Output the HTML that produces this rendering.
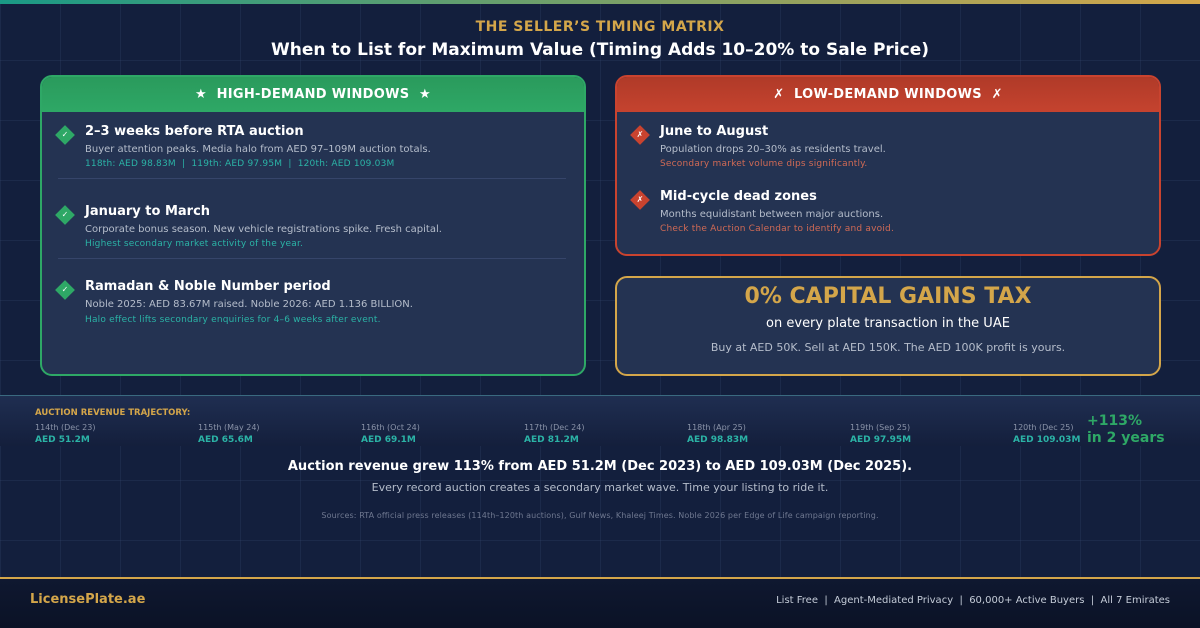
<!DOCTYPE html>
<html><head><meta charset="utf-8"><style>
*{margin:0;padding:0;box-sizing:border-box}
body{width:1200px;height:628px;overflow:hidden;background:#131f3d;font-family:"DejaVu Sans","Liberation Sans",sans-serif;position:relative}
.grid{position:absolute;left:0;top:0;width:1200px;height:580px;background-image:linear-gradient(rgba(60,80,120,.22) 1px,transparent 1px),linear-gradient(90deg,rgba(60,80,120,.22) 1px,transparent 1px);background-size:60px 60px}
.abs{position:absolute;white-space:nowrap}
.c{left:0;width:1200px;text-align:center}
.topbar{position:absolute;left:0;top:0;width:1200px;height:4px;background:linear-gradient(90deg,#1a9a86,#d4a64a)}
.panel{position:absolute;background:#243352;border-radius:12px;overflow:hidden}
.hdr{position:absolute;left:0;top:0;width:100%;height:35px;color:#fff;font-weight:bold;font-size:13px;text-align:center;line-height:36px;letter-spacing:.3px}
.dia{position:absolute;width:14px;height:14px;transform:rotate(45deg)}
.dia span{position:absolute;left:0;top:0;width:14px;height:14px;transform:rotate(-45deg);color:#fff;font-size:8px;text-align:center;line-height:14px}
.t{font-weight:bold;font-size:13px;color:#fff}
.d{font-size:10px;color:#b5bdcb}
.s{font-size:9px;color:#2bb3a6;letter-spacing:.2px}
.sr{font-size:9px;color:#d06a55;letter-spacing:.2px}
</style></head><body>
<div class="grid"></div>
<div class="topbar"></div>
<div class="abs c" style="top:19px;font-size:14px;font-weight:bold;color:#d4a64a;letter-spacing:.5px">THE SELLER’S TIMING MATRIX</div>
<div class="abs c" style="top:40px;font-size:17px;font-weight:bold;color:#fff">When to List for Maximum Value (Timing Adds 10–20% to Sale Price)</div>

<div class="panel" style="left:40px;top:75px;width:546px;height:301px;border:2px solid #2ea866">
 <div class="hdr" style="background:linear-gradient(#2a9a5c,#2ea866)">★&nbsp; HIGH-DEMAND WINDOWS &nbsp;★</div>
</div>
<div class="dia" style="left:58px;top:128px;background:#2ea866"><span>✓</span></div>
<div class="abs t" style="left:85px;top:124px">2–3 weeks before RTA auction</div>
<div class="abs d" style="left:85px;top:144px">Buyer attention peaks. Media halo from AED 97–109M auction totals.</div>
<div class="abs s" style="left:85px;top:159px">118th: AED 98.83M &nbsp;| &nbsp;119th: AED 97.95M &nbsp;| &nbsp;120th: AED 109.03M</div>
<div class="abs" style="left:58px;top:178px;width:508px;height:1px;background:#36456a"></div>
<div class="dia" style="left:58px;top:208px;background:#2ea866"><span>✓</span></div>
<div class="abs t" style="left:85px;top:204px">January to March</div>
<div class="abs d" style="left:85px;top:224px">Corporate bonus season. New vehicle registrations spike. Fresh capital.</div>
<div class="abs s" style="left:85px;top:239px">Highest secondary market activity of the year.</div>
<div class="abs" style="left:58px;top:258px;width:508px;height:1px;background:#36456a"></div>
<div class="dia" style="left:58px;top:283px;background:#2ea866"><span>✓</span></div>
<div class="abs t" style="left:85px;top:279px">Ramadan &amp; Noble Number period</div>
<div class="abs d" style="left:85px;top:299px">Noble 2025: AED 83.67M raised. Noble 2026: AED 1.136 BILLION.</div>
<div class="abs s" style="left:85px;top:315px">Halo effect lifts secondary enquiries for 4–6 weeks after event.</div>

<div class="panel" style="left:615px;top:75px;width:546px;height:181px;border:2px solid #c9432f">
 <div class="hdr" style="background:linear-gradient(#b03a28,#c5432f)">✗&nbsp; LOW-DEMAND WINDOWS &nbsp;✗</div>
</div>
<div class="dia" style="left:633px;top:128px;background:#c9432f"><span>✗</span></div>
<div class="abs t" style="left:660px;top:124px">June to August</div>
<div class="abs d" style="left:660px;top:144px">Population drops 20–30% as residents travel.</div>
<div class="abs sr" style="left:660px;top:159px">Secondary market volume dips significantly.</div>
<div class="dia" style="left:633px;top:193px;background:#c9432f"><span>✗</span></div>
<div class="abs t" style="left:660px;top:189px">Mid-cycle dead zones</div>
<div class="abs d" style="left:660px;top:209px">Months equidistant between major auctions.</div>
<div class="abs sr" style="left:660px;top:224px">Check the Auction Calendar to identify and avoid.</div>

<div class="panel" style="left:615px;top:276px;width:546px;height:100px;border:2px solid #d4a64a"></div>
<div class="abs" style="left:615px;width:546px;text-align:center;top:284px;font-size:22px;font-weight:bold;color:#d4a64a">0% CAPITAL GAINS TAX</div>
<div class="abs" style="left:615px;width:546px;text-align:center;top:316px;font-size:13px;color:#fff">on every plate transaction in the UAE</div>
<div class="abs" style="left:615px;width:546px;text-align:center;top:341px;font-size:11px;color:#b5bdcb">Buy at AED 50K. Sell at AED 150K. The AED 100K profit is yours.</div>

<div class="abs" style="left:0;top:395px;width:1200px;height:51px;background:linear-gradient(#1f2e51,#141f3c);border-top:1px solid #3a6a80"></div>
<div class="abs" style="left:35px;top:408px;font-size:8.5px;font-weight:bold;color:#d4a64a">AUCTION REVENUE TRAJECTORY:</div>
<div>
<div class="abs" style="left:35px;top:423px;font-size:8px;color:#8a93a8">114th (Dec 23)</div><div class="abs" style="left:35px;top:435px;font-size:9px;font-weight:bold;color:#2bb3a6">AED 51.2M</div>
<div class="abs" style="left:198px;top:423px;font-size:8px;color:#8a93a8">115th (May 24)</div><div class="abs" style="left:198px;top:435px;font-size:9px;font-weight:bold;color:#2bb3a6">AED 65.6M</div>
<div class="abs" style="left:361px;top:423px;font-size:8px;color:#8a93a8">116th (Oct 24)</div><div class="abs" style="left:361px;top:435px;font-size:9px;font-weight:bold;color:#2bb3a6">AED 69.1M</div>
<div class="abs" style="left:524px;top:423px;font-size:8px;color:#8a93a8">117th (Dec 24)</div><div class="abs" style="left:524px;top:435px;font-size:9px;font-weight:bold;color:#2bb3a6">AED 81.2M</div>
<div class="abs" style="left:687px;top:423px;font-size:8px;color:#8a93a8">118th (Apr 25)</div><div class="abs" style="left:687px;top:435px;font-size:9px;font-weight:bold;color:#2bb3a6">AED 98.83M</div>
<div class="abs" style="left:850px;top:423px;font-size:8px;color:#8a93a8">119th (Sep 25)</div><div class="abs" style="left:850px;top:435px;font-size:9px;font-weight:bold;color:#2bb3a6">AED 97.95M</div>
<div class="abs" style="left:1013px;top:423px;font-size:8px;color:#8a93a8">120th (Dec 25)</div><div class="abs" style="left:1013px;top:435px;font-size:9px;font-weight:bold;color:#2bb3a6">AED 109.03M</div>
</div>
<div class="abs" style="left:1087px;top:413px;font-size:14px;font-weight:bold;color:#2ea866;line-height:17px">+113%<br>in 2 years</div>

<div class="abs c" style="top:459px;font-size:13px;font-weight:bold;color:#fff">Auction revenue grew 113% from AED 51.2M (Dec 2023) to AED 109.03M (Dec 2025).</div>
<div class="abs c" style="top:481px;font-size:11px;color:#b5bdcb">Every record auction creates a secondary market wave. Time your listing to ride it.</div>
<div class="abs c" style="top:511px;font-size:8px;color:#6f7890;letter-spacing:.1px">Sources: RTA official press releases (114th–120th auctions), Gulf News, Khaleej Times. Noble 2026 per Edge of Life campaign reporting.</div>

<div class="abs" style="left:0;top:577px;width:1200px;height:51px;background:linear-gradient(#0f1830,#0b1226);border-top:2px solid #d4a64a"></div>
<div class="abs" style="left:30px;top:592px;font-size:13px;font-weight:bold;color:#d4a64a">LicensePlate.ae</div>
<div class="abs" style="right:30px;top:595px;font-size:10px;color:#c5ccd8">List Free &nbsp;| &nbsp;Agent-Mediated Privacy &nbsp;| &nbsp;60,000+ Active Buyers &nbsp;| &nbsp;All 7 Emirates</div>
</body></html>
